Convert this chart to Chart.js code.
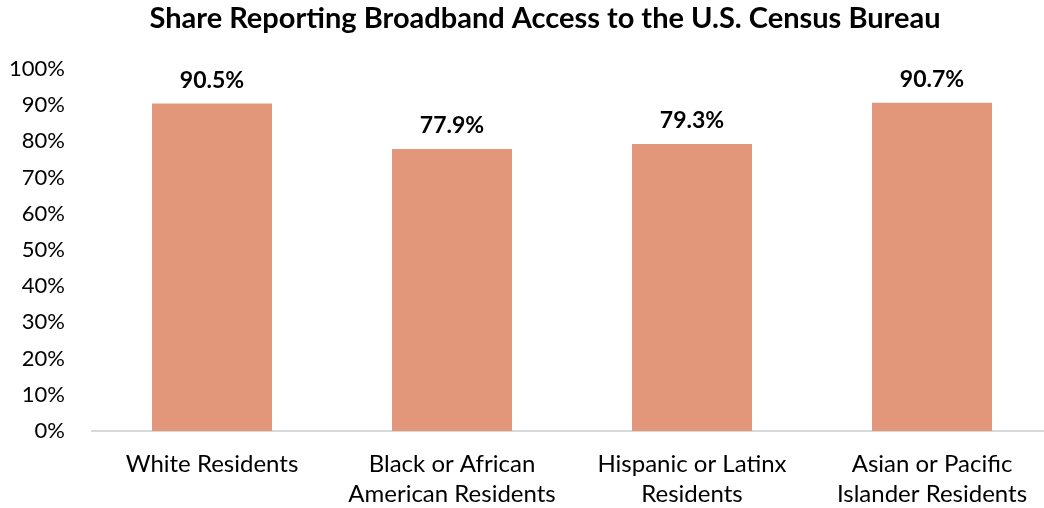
<!DOCTYPE html>
<html><head><meta charset="utf-8">
<script src="https://cdn.jsdelivr.net/npm/chart.js@4.4.0/dist/chart.umd.min.js"></script>
<style>html,body{margin:0;padding:0;background:#fff;overflow:hidden;width:1044px;height:508px}#wrap{width:1052px;height:508px;position:relative}</style>
</head><body><div id="wrap"><canvas id="c"></canvas></div>
<script>
const titleText = "Share Reporting Broadband Access to the U.S. Census Bureau";
const categories = [["White Residents"], ["Black or African","American Residents"], ["Hispanic or Latinx","Residents"], ["Asian or Pacific","Islander Residents"]];
const values = [90.5, 77.9, 79.3, 90.7];
const valueLabels = ["90.5%", "77.9%", "79.3%", "90.7%"];
const yTicks = [0,10,20,30,40,50,60,70,80,90,100];
const FONT = "Lato, 'Open Sans', sans-serif";

const titlePlugin = {
  id: 'titleP',
  afterDraw(chart){
    const ctx = chart.ctx;
    ctx.save();
    ctx.font = "bold 29px " + FONT;
    ctx.fillStyle = "#000";
    ctx.textAlign = "center";
    ctx.textBaseline = "middle";
    ctx.fillText(titleText, 545, 19);
    ctx.restore();
  }
};
const labelPlugin = {
  id: 'labelsP',
  afterDatasetsDraw(chart){
    const ctx = chart.ctx;
    const meta = chart.getDatasetMeta(0);
    ctx.save();
    ctx.font = "bold 23px " + FONT;
    ctx.fillStyle = "#000";
    ctx.textAlign = "center";
    ctx.textBaseline = "middle";
    meta.data.forEach((bar,i)=>{
      ctx.fillText(valueLabels[i], bar.x, bar.y - 23);
    });
    ctx.restore();
  }
};

new Chart(document.getElementById('c'), {
  type: 'bar',
  data: { labels: categories, datasets: [{ data: values, backgroundColor: '#E2967A', categoryPercentage: 1, barPercentage: 0.5 }] },
  options: {
    responsive: true, maintainAspectRatio: false, animation: false,
    layout: { padding: { top: 69, left: 0, right: 0, bottom: 0 } },
    plugins: { legend: { display: false }, tooltip: { enabled: false } },
    scales: {
      y: {
        min: 0, max: 100,
        afterFit(s){ s.width = 92; },
        afterBuildTicks(s){ s.ticks = yTicks.map(v=>({value:v})); },
        grid: { display: false, drawTicks: false },
        border: { display: false },
        ticks: { padding: 27, color: '#000', font: { family: FONT, size: 22 }, callback: v => v + '%' }
      },
      x: {
        afterFit(s){ s.height = 77; },
        grid: { display: false, drawTicks: false },
        border: { display: true, color: '#d9d9d9', width: 2 },
        ticks: { padding: 18, color: '#000', maxRotation: 0, autoSkip: false, font: { family: FONT, size: 24, lineHeight: 1.25 } }
      }
    }
  },
  plugins: [titlePlugin, labelPlugin]
});
</script></body></html>
